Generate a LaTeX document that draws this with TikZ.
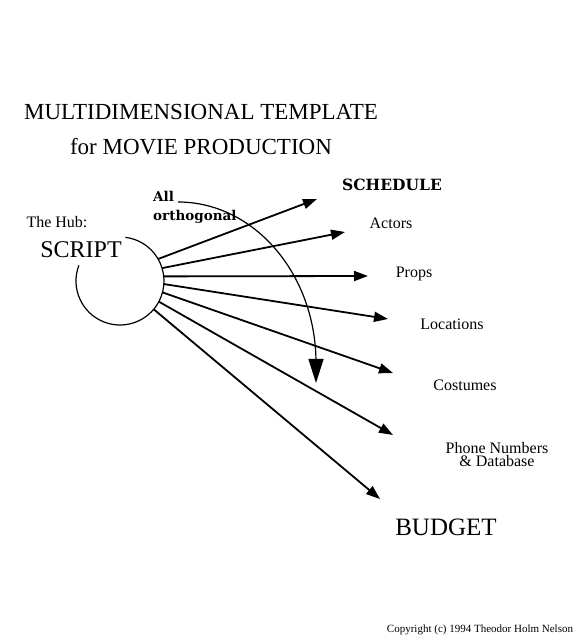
\documentclass[tikz,border=0pt]{standalone}
\usepackage{fontspec}
\setmainfont{Liberation Serif}
\newfontfamily\notefont{DejaVu Serif}
\usetikzlibrary{arrows.meta}
\tikzset{>={Triangle[length=14pt,width=10pt]},
  spoke/.style={->, line width=1.8pt},
  hub ring/.style={line width=1.2pt},
  ortho arrow/.style={-{Triangle[length=24pt,width=15pt]}, line width=1.2pt},
  dimension/.style={font=\fontsize{16}{13}\selectfont, align=center, inner sep=0pt},
  bold note/.style={font=\notefont\bfseries\fontsize{15.5}{19}\selectfont, inner sep=0pt}
}

\begin{document}
\begin{tikzpicture}[x=1pt, y=1pt]
\useasboundingbox (0,0) rectangle (580,640);

% Title
\node[font=\fontsize{23}{35}\selectfont, align=center] (title) at (201,510)
  {MULTIDIMENSIONAL TEMPLATE\\for MOVIE PRODUCTION};

% The hub, an open ring
\node[circle, minimum size=88pt, inner sep=0pt, outer sep=0pt] (hub) at (120,359) {};
\draw[hub ring] (hub.159) arc[start angle=159, end angle=443, radius=44pt];
\node[font=\fontsize{16}{18}\selectfont, inner sep=0pt] (hubtag) at (57,418) {The Hub:};
\node[font=\fontsize{24}{26}\selectfont, inner sep=0pt] (script) at (81,390) {SCRIPT};

% The dimensions
\node[bold note] (schedule) at (392,455) {SCHEDULE};
\node[dimension] (actors) at (391,417) {Actors};
\node[dimension] (props) at (414,366) {Props};
\node[dimension] (locations) at (452,316) {Locations};
\node[dimension] (costumes) at (465,255) {Costumes};
\node[dimension] (phone) at (497,185) {Phone Numbers\\\& Database};
\node[font=\fontsize{25}{27}\selectfont, inner sep=0pt] (budget) at (446,113) {BUDGET};

% Arrow ends
\coordinate (tipschedule) at (317,441);
\coordinate (tipactors) at (345,408);
\coordinate (tipprops) at (368,364);
\coordinate (tiplocations) at (388,321);
\coordinate (tipcostumes) at (393,267);
\coordinate (tipphone) at (393,205);
\coordinate (tipbudget) at (380,141);

% Draw the spokes
\draw[spoke] (hub.30) -- (tipschedule);
\draw[spoke] (hub.17) -- (tipactors);
\draw[spoke] (hub.6) -- (tipprops);
\draw[spoke] (hub.-4) -- (tiplocations);
\draw[spoke] (hub.-15) -- (tipcostumes);
\draw[spoke] (hub.-28) -- (tipphone);
\draw[spoke] (hub.-40) -- (tipbudget);

% All orthogonal
\node[bold note, font=\notefont\bfseries\fontsize{13.5}{19}\selectfont, align=left, anchor=west] (ortho) at (153,433)
  {All\\orthogonal};
\coordinate (orthostart) at (178,438);
\draw[ortho arrow] (orthostart) arc[start angle=90, end angle=0, x radius=138pt, y radius=161pt]
  -- ++(0,-20);

\node[font=\fontsize{11}{13}\selectfont, inner sep=0pt] (copyright) at (480,10)
  {Copyright (c) 1994 Theodor Holm Nelson};

\end{tikzpicture}
\end{document}
